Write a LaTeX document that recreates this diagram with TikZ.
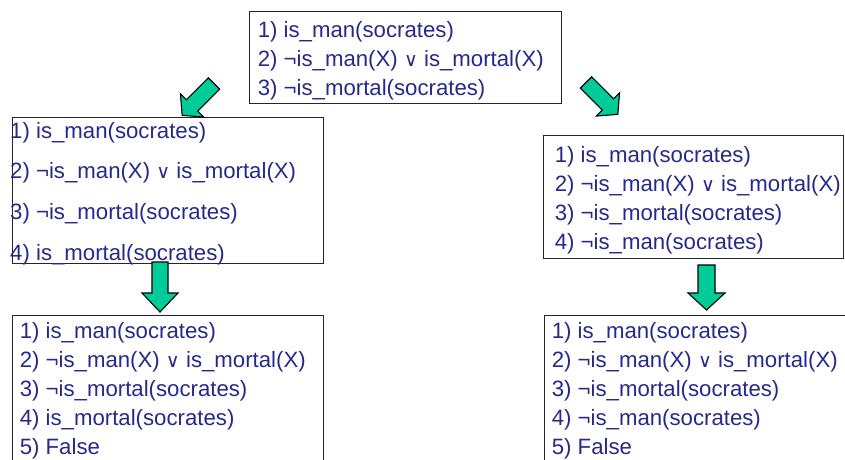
\documentclass[tikz,border=0pt]{standalone}
\usepackage{fontspec}
\setmainfont{Liberation Sans}
\newfontfamily\symf{DejaVu Sans}
\definecolor{txtblue}{RGB}{40,40,140}
\definecolor{arrgreen}{RGB}{0,204,153}
\newcommand\vel{{\symf\fontsize{19}{19}\selectfont ∨}}
\newcommand\cla{1) is\_man(socrates)}
\newcommand\clb{2) ¬is\_man(X) \vel{} is\_mortal(X)}
\newcommand\clc{3) ¬is\_mortal(socrates)}
\newcommand\cldl{4) is\_mortal(socrates)}
\newcommand\cldr{4) ¬is\_man(socrates)}
\newcommand\cle{5) False}
\tikzset{
  box/.style={draw=black!85, line width=1.2pt, rectangle, inner sep=0pt, anchor=north west},
  txt/.style={inner sep=0pt, anchor=base west, text=txtblue, font=\fontsize{22.2}{26}\selectfont},
  fatarrow/.style={draw=black, line width=1.1pt, fill=arrgreen, line join=miter},
}
% start, angle, shaft length, head length, shaft width, head width
\newcommand\blkarrow[6]{%
  \draw[fatarrow, shift={#1}, rotate=#2]
    (0,{-#5/2}) -- (#3,{-#5/2}) -- (#3,{-#6/2}) -- ({#3+#4},0) -- (#3,{#6/2}) -- (#3,{#5/2}) -- (0,{#5/2}) -- cycle;}
\begin{document}
\begin{tikzpicture}[x=1pt,y=-1pt]
\useasboundingbox (0,0) rectangle (845,459);
\clip (0,0) rectangle (845,459);
% boxes
\node[box, minimum width=312pt, minimum height=92pt] (top) at (249,11) {};
\node[box, minimum width=311pt, minimum height=146pt] (lmid) at (12,117) {};
\node[box, minimum width=300pt, minimum height=123pt] (rmid) at (543,135) {};
\node[box, minimum width=311pt, minimum height=170pt] (lbot) at (12,315) {};
\node[box, minimum width=312pt, minimum height=170pt] (rbot) at (544,315) {};
% arrows
\blkarrow{(214,83.5)}{-135}{31}{14}{16}{33}
\blkarrow{(586,82.5)}{-45}{31}{14}{16}{33}
\blkarrow{(160,262)}{-90}{31}{19}{16}{36}
\blkarrow{(706.5,265)}{-90}{28}{17}{17}{37}
% texts
\foreach \t [count=\i] in {\cla,\clb,\clc}
  \node[txt] (top-\i) at ({257.6},{37+29*(\i-1)}) {\t};
\foreach \t [count=\i] in {\cla,\clb,\clc,\cldl}
  \node[txt] (lmid-\i) at ({10},{138+40.7*(\i-1)}) {\t};
\foreach \t [count=\i] in {\cla,\clb,\clc,\cldr}
  \node[txt] (rmid-\i) at ({554.6},{162+29*(\i-1)}) {\t};
\foreach \t [count=\i] in {\cla,\clb,\clc,\cldl,\cle}
  \node[txt] (lbot-\i) at ({19.6},{338+29*(\i-1)}) {\t};
\foreach \t [count=\i] in {\cla,\clb,\clc,\cldr,\cle}
  \node[txt] (rbot-\i) at ({551.6},{338+29*(\i-1)}) {\t};
\end{tikzpicture}
\end{document}
